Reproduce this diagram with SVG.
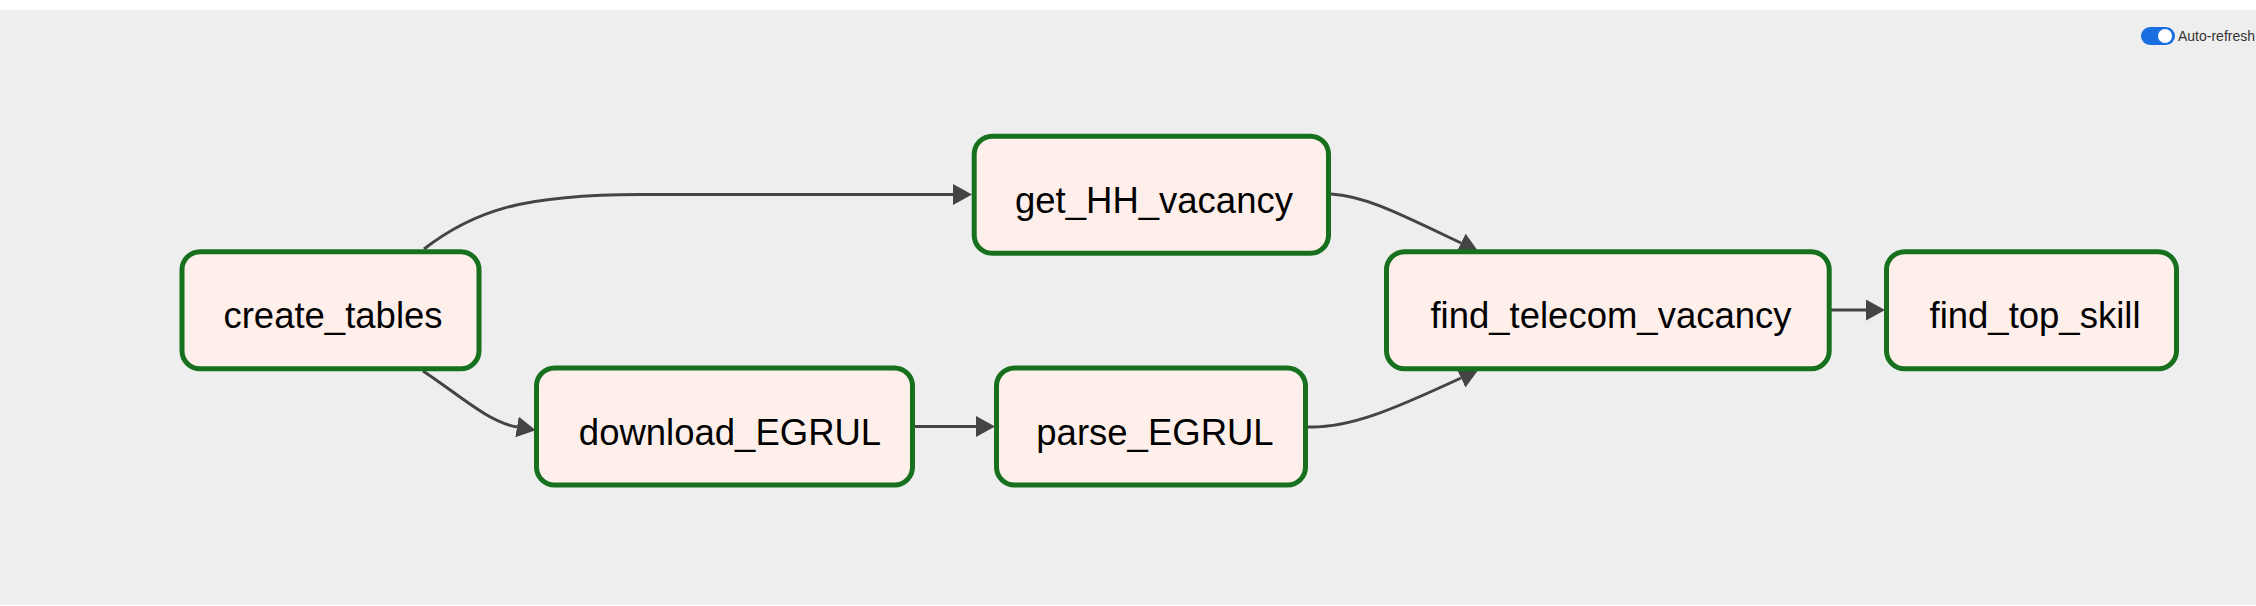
<svg xmlns="http://www.w3.org/2000/svg" width="2256" height="606" viewBox="0 0 2256 606">
  <defs>
    <style>
      .node rect { fill: #ffefeb; stroke: #16701e; stroke-width: 5; }
      .node text { font-family: "Liberation Sans", Arial, Helvetica, sans-serif; font-size: 36.5px; fill: #000000; text-anchor: middle; }
      .edge { fill: none; stroke: #444444; stroke-width: 3; }
      .toggle-label { font-family: "Liberation Sans", Arial, Helvetica, sans-serif; font-size: 14px; fill: #333333; }
    </style>
    <marker id="arrow" markerUnits="userSpaceOnUse" markerWidth="20" markerHeight="22" refX="0" refY="10.5" orient="auto" viewBox="0 0 20 22">
      <path d="M0,0 L19,10.5 L0,21 Z" fill="#444444"/>
    </marker>
  </defs>

  <rect x="0" y="0" width="2256" height="606" fill="#ffffff"/>
  <rect x="0" y="10" width="2256" height="595" fill="#eeeeee"/>

  <g id="auto-refresh">
    <rect x="2141" y="27" width="34" height="18" rx="9" fill="#1a6fe0"/>
    <circle cx="2165" cy="36" r="7" fill="#ffffff"/>
    <text class="toggle-label" x="2178" y="41">Auto-refresh</text>
  </g>

  <g id="connectors">
    <path class="edge" d="M424,249 C472,212 520,194.5 640,194.5 L953,194.5" marker-end="url(#arrow)"/>
    <path class="edge" d="M423,371 C458,394 488,422 517,427" marker-end="url(#arrow)"/>
    <path class="edge" d="M915,426.5 L976,426.5" marker-end="url(#arrow)"/>
    <path class="edge" d="M1331,194 C1366,196 1402,215 1461,243" marker-end="url(#arrow)"/>
    <path class="edge" d="M1308,427 C1350,428 1392,410 1461,378" marker-end="url(#arrow)"/>
    <path class="edge" d="M1831,310 L1866,310" marker-end="url(#arrow)"/>
  </g>

  <g id="create_tables" class="node">
    <rect x="182" y="251.7" width="297" height="117" rx="18"/>
    <text x="333" y="328">create_tables</text>
  </g>
  <g id="get_HH_vacancy" class="node">
    <rect x="974.2" y="136.3" width="354.3" height="117" rx="18"/>
    <text x="1154" y="212.5">get_HH_vacancy</text>
  </g>
  <g id="download_EGRUL" class="node">
    <rect x="536.5" y="368" width="376" height="117" rx="18"/>
    <text x="730" y="444.5">download_EGRUL</text>
  </g>
  <g id="parse_EGRUL" class="node">
    <rect x="996.5" y="368" width="309" height="117" rx="18"/>
    <text x="1155" y="444.5">parse_EGRUL</text>
  </g>
  <g id="find_telecom_vacancy" class="node">
    <rect x="1386.5" y="251.7" width="442.7" height="117" rx="18"/>
    <text x="1611" y="328">find_telecom_vacancy</text>
  </g>
  <g id="find_top_skill" class="node">
    <rect x="1886.5" y="251.7" width="290" height="117" rx="18"/>
    <text x="2035" y="328">find_top_skill</text>
  </g>
</svg>
